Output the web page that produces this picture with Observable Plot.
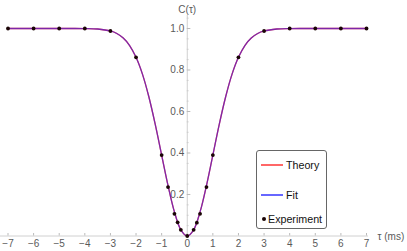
<!DOCTYPE html>
<html>
<head>
<meta charset="utf-8">
<script src="https://cdn.jsdelivr.net/npm/d3@7"></script>
<script src="https://cdn.jsdelivr.net/npm/@observablehq/plot@0.6"></script>
<style>
  html, body { margin: 0; padding: 0; background: #fff; }
  #wrap { position: relative; width: 407px; height: 251px; font-family: "Liberation Sans", Arial, sans-serif; }
  #legend { position: absolute; left: 256px; top: 150px; width: 69px; height: 77px; border: 1px solid #666; border-radius: 3px; background: #fff; font-size: 10.7px; color: #111; }
  .row { position: absolute; left: 0; display: flex; align-items: center; }
  .sw { display: block; width: 22px; height: 1.4px; margin: 0 3px 0 4px; opacity: 0.7; }
  .dot { display: inline-block; width: 4px; height: 4px; border-radius: 50%; background: #1a0505; margin: 0 2px 0 5px; }
</style>
</head>
<body>
<div id="wrap"><div id="legend"></div></div>
<script>
// Experimental points (tau in ms, C)
const expTau = [-7, -6, -5, -4, -3, -2, -1, -0.75, -0.5, -0.375, -0.25, 0, 0.25, 0.375, 0.5, 0.75, 1, 2, 3, 4, 5, 6, 7];
const expC   = [1.0, 1.0, 1.0, 1.0, 0.988, 0.861, 0.39, 0.236, 0.107, 0.066, 0.03, 0.0, 0.03, 0.064, 0.107, 0.236, 0.39, 0.861, 0.988, 1.0, 1.0, 1.0, 1.0];

// Curve values (theory and fit coincide)
const curveTau = [-7, -6, -5, -4.5, -4, -3.5, -3, -2.75, -2.5, -2.25, -2, -1.75, -1.5, -1.25, -1, -0.75, -0.5, -0.25, 0,
                  0.25, 0.5, 0.75, 1, 1.25, 1.5, 1.75, 2, 2.25, 2.5, 2.75, 3, 3.5, 4, 4.5, 5, 6, 7];
const theoryC  = [1.0, 1.0, 1.0, 1.0, 0.9996, 0.9976, 0.988, 0.976, 0.954, 0.918, 0.861, 0.780, 0.671, 0.538, 0.390, 0.243, 0.116, 0.030, 0.0,
                  0.030, 0.116, 0.243, 0.390, 0.538, 0.671, 0.780, 0.861, 0.918, 0.954, 0.976, 0.988, 0.9976, 0.9996, 1.0, 1.0, 1.0, 1.0];
const fitC     = [1.0, 1.0, 1.0, 1.0, 0.9996, 0.9976, 0.988, 0.976, 0.954, 0.918, 0.861, 0.780, 0.671, 0.538, 0.390, 0.243, 0.116, 0.030, 0.0,
                  0.030, 0.116, 0.243, 0.390, 0.538, 0.671, 0.780, 0.861, 0.918, 0.954, 0.976, 0.988, 0.9976, 0.9996, 1.0, 1.0, 1.0, 1.0];

// Ticks
const xTicks = [-7, -6, -5, -4, -3, -2, -1, 0, 1, 2, 3, 4, 5, 6, 7];
const xTickLabels = ["−7", "−6", "−5", "−4", "−3", "−2", "−1", "0", "1", "2", "3", "4", "5", "6", "7"];
const yTicks = [0.2, 0.4, 0.6, 0.8, 1.0];
const yTickLabels = ["0.2", "0.4", "0.6", "0.8", "1.0"];
const yMinor = [0.05, 0.1, 0.15, 0.25, 0.3, 0.35, 0.45, 0.5, 0.55, 0.65, 0.7, 0.75, 0.85, 0.9, 0.95, 1.05];

const seriesNames = ["Theory", "Fit", "Experiment"];
const colors = { Theory: "#ff2626", Fit: "#2626ff", Experiment: "#1a0505" };

const expData = expTau.map((t, i) => ({ t, c: expC[i] }));
const theoryData = curveTau.map((t, i) => ({ t, c: theoryC[i] }));
const fitData = curveTau.map((t, i) => ({ t, c: fitC[i] }));
const xTickData = xTicks.map((t, i) => ({ t, label: xTickLabels[i] }));
const yTickData = yTicks.map((v, i) => ({ v, label: yTickLabels[i] }));

const axisGray = "#d0d0d0";
const labelGray = "#5a5a5a";

const chart = Plot.plot({
  width: 407,
  height: 251,
  marginLeft: 7.5,
  marginRight: 41,
  marginTop: 28,
  marginBottom: 15.5,
  style: { fontFamily: "'Liberation Sans', Arial, sans-serif", fontSize: "10px", background: "#fff", overflow: "visible" },
  x: { domain: [-7, 7], axis: null },
  y: { domain: [0, 1], axis: null },
  marks: [
    // x axis line and ticks
    Plot.ruleY([0], { x1: -7.3, x2: 7.08, stroke: axisGray, strokeWidth: 1 }),
    Plot.ruleX(xTickData, { x: "t", y1: 0, y2: 0.012, stroke: "#bbb" }),
    Plot.text(xTickData, { x: "t", y: 0, text: "label", dy: 8, fill: labelGray, fontSize: 10, lineAnchor: "middle" }),
    // y axis line and ticks at x = 0
    Plot.ruleX([0], { y1: 0, y2: 1.063, stroke: axisGray, strokeWidth: 1 }),
    Plot.ruleY(yMinor, { x1: 0, x2: 0.07, stroke: "#ccc" }),
    Plot.ruleY(yTicks, { x1: 0, x2: 0.14, stroke: "#bbb" }),
    Plot.text(yTickData, { x: 0, y: "v", text: "label", dx: -3, textAnchor: "end", fill: labelGray, fontSize: 10, lineAnchor: "middle" }),
    // axis titles
    Plot.text(["C(τ)"], { x: 0, frameAnchor: "top", dy: -19, fill: labelGray, fontSize: 10, lineAnchor: "middle" }),
    Plot.text(["τ (ms)"], { frameAnchor: "bottom-right", dx: 11, dy: 1, textAnchor: "start", lineAnchor: "middle", fill: labelGray, fontSize: 10 }),
    // curves
    Plot.line(theoryData, { x: "t", y: "c", stroke: colors.Theory, strokeWidth: 1.3, curve: "catmull-rom" }),
    Plot.line(fitData, { x: "t", y: "c", stroke: colors.Fit, strokeWidth: 1.3, strokeOpacity: 0.6, curve: "catmull-rom" }),
    // experiment
    Plot.dot(expData, { x: "t", y: "c", r: 1.9, fill: colors.Experiment, stroke: "none" })
  ]
});

document.getElementById("wrap").prepend(chart);

// Legend
const legend = document.getElementById("legend");
const rowTops = [14, 44, 68];
seriesNames.forEach((name, i) => {
  const row = document.createElement("div");
  row.className = "row";
  row.style.top = (rowTops[i] - 7) + "px";
  row.style.height = "14px";
  const mark = document.createElement("span");
  if (name === "Experiment") {
    mark.className = "dot";
  } else {
    mark.className = "sw";
    mark.style.background = colors[name];
  }
  row.appendChild(mark);
  const label = document.createElement("span");
  label.textContent = name;
  row.appendChild(label);
  legend.appendChild(row);
});
</script>
</body>
</html>
